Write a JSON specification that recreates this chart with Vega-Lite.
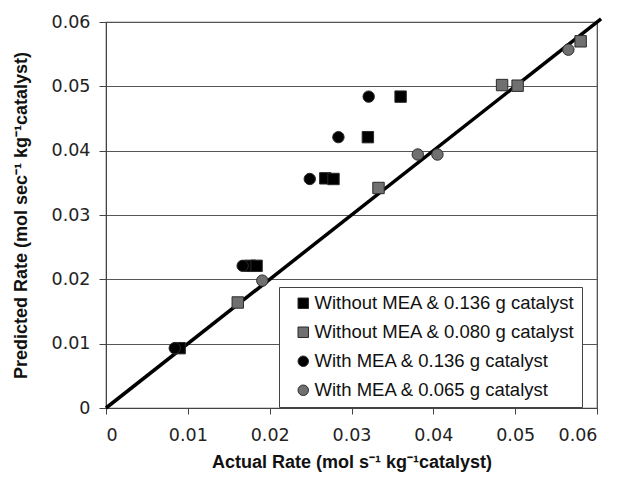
{
  "$schema": "https://vega.github.io/schema/vega-lite/v6.json",
  "width": 491,
  "height": 386,
  "autosize": {"type": "none"},
  "padding": {"left": 106, "top": 22, "right": 22, "bottom": 74},
  "background": "white",
  "config": {
    "font": "Liberation Sans",
    "view": {"stroke": "#444", "strokeWidth": 1.2},
    "axis": {
      "labelFont": "DejaVu Sans",
      "titleFont": "Liberation Sans",
      "labelFontSize": 17.5,
      "titleFontSize": 18,
      "labelColor": "#222",
      "titleColor": "#111",
      "titleFontWeight": "bold",
      "domainColor": "#444",
      "tickColor": "#444",
      "tickSize": 7
    }
  },
  "layer": [
    {
      "data": {"values": [{"x": 0, "y": 0}, {"x": 0.0605, "y": 0.0605}]},
      "mark": {"type": "line", "color": "#000", "strokeWidth": 3.5, "clip": false},
      "encoding": {
        "x": {"field": "x", "type": "quantitative", "scale": {"domain": [0, 0.06], "nice": false}},
        "y": {"field": "y", "type": "quantitative", "scale": {"domain": [0, 0.06], "nice": false}}
      }
    },
    {
      "data": {"values": [
        {"series": "Without MEA & 0.136 g catalyst", "actual": 0.0090, "predicted": 0.0093},
        {"series": "Without MEA & 0.136 g catalyst", "actual": 0.0176, "predicted": 0.0221},
        {"series": "Without MEA & 0.136 g catalyst", "actual": 0.0184, "predicted": 0.0221},
        {"series": "Without MEA & 0.136 g catalyst", "actual": 0.0268, "predicted": 0.0357},
        {"series": "Without MEA & 0.136 g catalyst", "actual": 0.0278, "predicted": 0.0356},
        {"series": "Without MEA & 0.136 g catalyst", "actual": 0.0320, "predicted": 0.0421},
        {"series": "Without MEA & 0.136 g catalyst", "actual": 0.0360, "predicted": 0.0484},
        {"series": "Without MEA & 0.080 g catalyst", "actual": 0.0161, "predicted": 0.0164},
        {"series": "Without MEA & 0.080 g catalyst", "actual": 0.0333, "predicted": 0.0342},
        {"series": "Without MEA & 0.080 g catalyst", "actual": 0.0484, "predicted": 0.0502},
        {"series": "Without MEA & 0.080 g catalyst", "actual": 0.0503, "predicted": 0.0501},
        {"series": "Without MEA & 0.080 g catalyst", "actual": 0.0580, "predicted": 0.0570},
        {"series": "With MEA & 0.136 g catalyst", "actual": 0.0084, "predicted": 0.0093},
        {"series": "With MEA & 0.136 g catalyst", "actual": 0.0167, "predicted": 0.0221},
        {"series": "With MEA & 0.136 g catalyst", "actual": 0.0249, "predicted": 0.0356},
        {"series": "With MEA & 0.136 g catalyst", "actual": 0.0284, "predicted": 0.0421},
        {"series": "With MEA & 0.136 g catalyst", "actual": 0.0321, "predicted": 0.0484},
        {"series": "With MEA & 0.065 g catalyst", "actual": 0.0191, "predicted": 0.0198},
        {"series": "With MEA & 0.065 g catalyst", "actual": 0.0381, "predicted": 0.0394},
        {"series": "With MEA & 0.065 g catalyst", "actual": 0.0405, "predicted": 0.0394},
        {"series": "With MEA & 0.065 g catalyst", "actual": 0.0565, "predicted": 0.0557}
      ]},
      "mark": {"type": "point", "filled": true, "opacity": 1, "size": 130, "stroke": "#2a2a2a", "strokeWidth": 1},
      "encoding": {
        "x": {
          "field": "actual", "type": "quantitative",
          "scale": {"domain": [0, 0.06], "nice": false},
          "axis": {"values": [0, 0.01, 0.02, 0.03, 0.04, 0.05, 0.06], "format": ".2~f", "grid": false, "tickSize": 6, "labelPadding": 12, "titlePadding": 10,
                   "title": "Actual Rate (mol s⁻¹ kg⁻¹catalyst)"}
        },
        "y": {
          "field": "predicted", "type": "quantitative",
          "scale": {"domain": [0, 0.06], "nice": false},
          "axis": {"values": [0, 0.01, 0.02, 0.03, 0.04, 0.05, 0.06], "format": ".2~f", "grid": true, "gridColor": "#555", "gridWidth": 1.2, "gridOpacity": 1, "labelPadding": 9, "titlePadding": 21,
                   "title": "Predicted Rate (mol sec⁻¹ kg⁻¹catalyst)"}
        },
        "shape": {
          "field": "series", "type": "nominal",
          "scale": {
            "domain": ["Without MEA & 0.136 g catalyst", "Without MEA & 0.080 g catalyst", "With MEA & 0.136 g catalyst", "With MEA & 0.065 g catalyst"],
            "range": ["square", "square", "circle", "circle"]
          },
          "legend": null
        },
        "color": {
          "field": "series", "type": "nominal",
          "scale": {
            "domain": ["Without MEA & 0.136 g catalyst", "Without MEA & 0.080 g catalyst", "With MEA & 0.136 g catalyst", "With MEA & 0.065 g catalyst"],
            "range": ["#000000", "#707070", "#000000", "#707070"]
          },
          "legend": {
            "title": null,
            "orient": "none",
            "legendX": 173,
            "legendY": 265,
            "fillColor": "white",
            "strokeColor": "#444",
            "padding": 7,
            "symbolOffset": 8,
            "labelFont": "Liberation Sans",
            "labelFontSize": 18.5,
            "labelColor": "#111",
            "labelOffset": 2,
            "labelLimit": 0,
            "rowPadding": 10,
            "symbolSize": 110,
            "symbolStrokeColor": "#2a2a2a",
            "symbolStrokeWidth": 1
          }
        }
      }
    }
  ]
}
